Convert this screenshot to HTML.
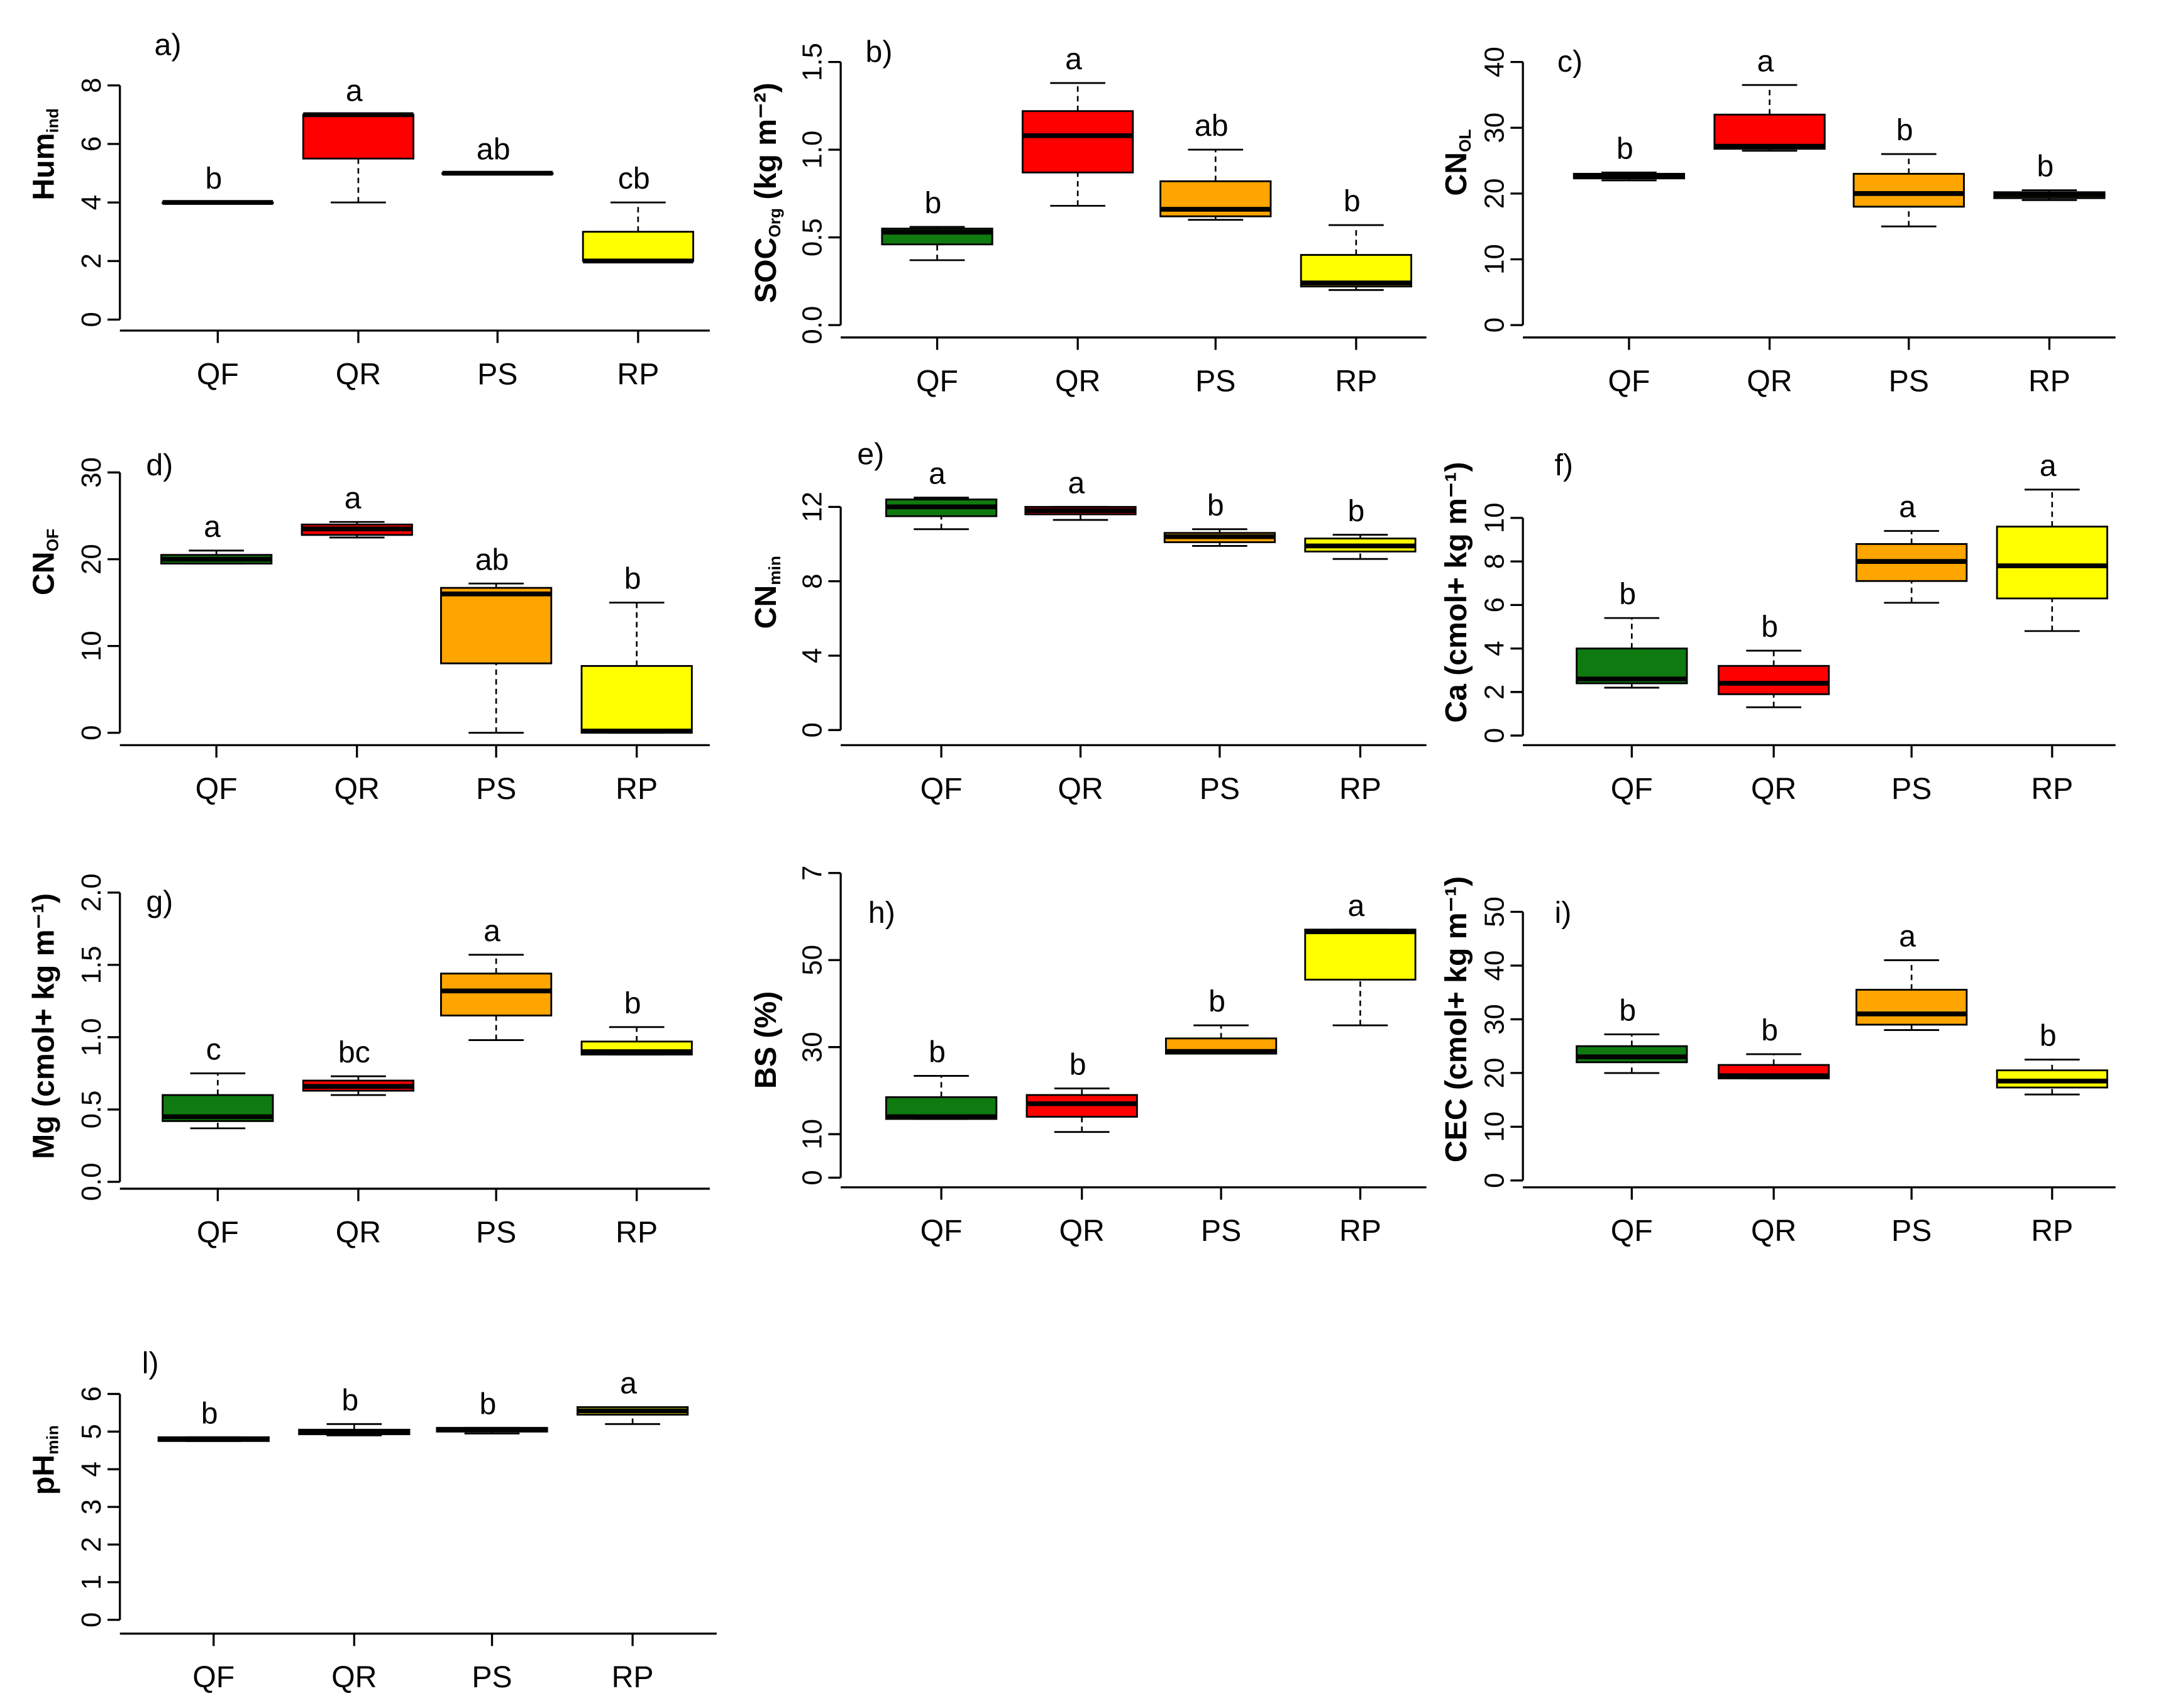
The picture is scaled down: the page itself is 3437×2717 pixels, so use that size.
<!DOCTYPE html>
<html><head><meta charset="utf-8"><style>
html,body{margin:0;padding:0;background:#fff;}
svg{display:block;}
text{font-family:"Liberation Sans",Arial,sans-serif;}
</style></head><body>
<svg id="chart" width="3437" height="2717" viewBox="0 0 1568 1240" preserveAspectRatio="none" xmlns="http://www.w3.org/2000/svg"></svg>
<script>
const categories = ["QF","QR","PS","RP"];
const colors = ["#0f7a0f","#ff0000","#ffa500","#ffff00"];
// each series: [min, q1, median, q3, max] per category
const humValues = [[4,4,4,4,4],[4,5.5,7,7,7],[5,5,5,5,5],[2,2,2,3,4]];
const humLetters = ["b","a","ab","cb"];
const socValues = [[0.37,0.46,0.53,0.55,0.56],[0.68,0.87,1.08,1.22,1.38],[0.6,0.62,0.66,0.82,1.0],[0.2,0.22,0.24,0.4,0.57]];
const socLetters = ["b","a","ab","b"];
const cnolValues = [[22,22.3,22.7,23,23.2],[26.5,26.8,27.2,32,36.5],[15,18,20,23,26],[19,19.3,19.8,20.2,20.5]];
const cnolLetters = ["b","a","b","b"];
const cnofValues = [[19.5,19.5,20,20.5,21],[22.5,22.8,23.5,24,24.3],[0,8,16,16.7,17.2],[0,0,0.2,7.7,15]];
const cnofLetters = ["a","a","ab","b"];
const cnminValues = [[10.8,11.5,12,12.4,12.5],[11.3,11.6,11.8,12,12],[9.9,10.1,10.4,10.6,10.8],[9.2,9.6,9.9,10.3,10.5]];
const cnminLetters = ["a","a","b","b"];
const caValues = [[2.2,2.4,2.6,4,5.4],[1.3,1.9,2.4,3.2,3.9],[6.1,7.1,8,8.8,9.4],[4.8,6.3,7.8,9.6,11.3]];
const caLetters = ["b","b","a","a"];
const mgValues = [[0.37,0.42,0.45,0.6,0.75],[0.6,0.63,0.66,0.7,0.73],[0.98,1.15,1.32,1.44,1.57],[0.88,0.88,0.9,0.97,1.07]];
const mgLetters = ["c","bc","a","b"];
const bsValues = [[13.5,13.5,14,18.5,23.4],[10.5,14,17,19,20.5],[28.5,28.5,29,32,35],[35,45.5,56.5,57,57]];
const bsLetters = ["b","b","b","a"];
const cecValues = [[20,22,23,25,27.2],[19,19,19.5,21.5,23.5],[28,29,31,35.5,41],[16,17.3,18.5,20.5,22.5]];
const cecLetters = ["b","b","a","b"];
const phValues = [[4.75,4.75,4.8,4.85,4.85],[4.9,4.93,5,5.05,5.2],[4.95,5,5.05,5.1,5.1],[5.2,5.45,5.55,5.65,5.65]];
const phLetters = ["b","b","b","a"];
const humTicks = [0,2,4,6,8];
const socTicks = ["0.0","0.5","1.0","1.5"];
const cnolTicks = [0,10,20,30,40];
const cnofTicks = [0,10,20,30];
const cnminTicks = [0,4,8,12];
const caTicks = [0,2,4,6,8,10];
const mgTicks = ["0.0","0.5","1.0","1.5","2.0"];
const bsTicks = [0,10,30,50,70];
const bsTickText = ["0","10","30","50","7"];
const cecTicks = [0,10,20,30,40,50];
const phTicks = [0,1,2,3,4,5,6];

const panels = [
 {id:"a",vals:humValues,let:humLetters,ticks:humTicks,ax:87,v0:0,y0:232,v1:8,y1:62,xy:240,xr:515,xs:[158,260,361,463],tx:33,ty:112,title:["Hum","ind",""],lx:112,ly:40},
 {id:"b",vals:socValues,let:socLetters,ticks:socTicks,ax:610,v0:0,y0:236,v1:1.5,y1:45,xy:245,xr:1035,xs:[680,782,882,984],tx:557,ty:140,title:["SOC","Org"," (kg m⁻²)"],lx:628,ly:45},
 {id:"c",vals:cnolValues,let:cnolLetters,ticks:cnolTicks,ax:1105,v0:0,y0:236,v1:40,y1:45,xy:245,xr:1535,xs:[1182,1284,1385,1487],tx:1058,ty:118,title:["CN","OL",""],lx:1130,ly:52},
 {id:"d",vals:cnofValues,let:cnofLetters,ticks:cnofTicks,ax:87,v0:0,y0:532,v1:30,y1:343,xy:541,xr:515,xs:[157,259,360,462],tx:33,ty:408,title:["CN","OF",""],lx:106,ly:345},
 {id:"e",vals:cnminValues,let:cnminLetters,ticks:cnminTicks,ax:610,v0:0,y0:530,v1:12,y1:368,xy:541,xr:1035,xs:[683,784,885,987],tx:557,ty:430,title:["CN","min",""],lx:622,ly:337},
 {id:"f",vals:caValues,let:caLetters,ticks:caTicks,ax:1105,v0:0,y0:534,v1:10,y1:376,xy:541,xr:1535,xs:[1184,1287,1387,1489],tx:1058,ty:430,title:["Ca (cmol+ kg m⁻¹)","",""],lx:1128,ly:345},
 {id:"g",vals:mgValues,let:mgLetters,ticks:mgTicks,ax:87,v0:0,y0:858,v1:2,y1:648,xy:863,xr:515,xs:[158,260,360,462],tx:33,ty:745,title:["Mg (cmol+ kg m⁻¹)","",""],lx:106,ly:662},
 {id:"h",vals:bsValues,let:bsLetters,ticks:bsTicks,tickText:bsTickText,ax:610,v0:0,y0:855,v1:50,y1:697,xy:862,xr:1035,xs:[683,785,886,987],tx:557,ty:755,title:["BS  (%)","",""],lx:630,ly:670},
 {id:"i",vals:cecValues,let:cecLetters,ticks:cecTicks,ax:1105,v0:0,y0:857,v1:50,y1:662,xy:862,xr:1535,xs:[1184,1287,1387,1489],tx:1058,ty:740,title:["CEC (cmol+ kg m⁻¹)","",""],lx:1128,ly:670},
 {id:"l",vals:phValues,let:phLetters,ticks:phTicks,ax:87,v0:0,y0:1176,v1:6,y1:1012,xy:1186,xr:520,xs:[155,257,357,459],tx:33,ty:1060,title:["pH","min",""],lx:103,ly:997}
];
const svg=document.getElementById('chart');
const NS="http://www.w3.org/2000/svg";
function mk(tag,attrs,parent){const e=document.createElementNS(NS,tag);for(const k in attrs)e.setAttribute(k,attrs[k]);parent.appendChild(e);return e;}
panels.forEach(p=>{
  const g=mk('g',{},svg);
  
  
  const Y=v=>p.y0+(Number(v)-p.v0)*(p.y1-p.y0)/(p.v1-p.v0);
  const tv=p.ticks.map(Number);
  const yl=mk('line',{x1:p.ax,x2:p.ax,y1:Y(tv[0]),y2:Y(tv[tv.length-1]),stroke:'#000','stroke-width':1.5},g);
  
  
  p.ticks.forEach((t,i)=>{
    const y=Y(t);
    mk('line',{x1:p.ax-9,x2:p.ax,y1:y,y2:y,stroke:'#000','stroke-width':1.5},g);
    const tx=mk('text',{x:p.ax-14,y:y,'font-size':20,'text-anchor':'middle',transform:`rotate(-90 ${p.ax-14} ${y})`},g);
    tx.textContent=p.tickText?p.tickText[i]:String(t);
    
    
  });
  const xl=mk('line',{x1:p.ax,x2:p.xr,y1:p.xy,y2:p.xy,stroke:'#000','stroke-width':1.5},g);
  
  
  categories.forEach((c,i)=>{
    const x=p.xs[i];
    mk('line',{x1:x,x2:x,y1:p.xy,y2:p.xy+9,stroke:'#000','stroke-width':1.5},g);
    const t=mk('text',{x:x,y:p.xy+39,'font-size':22,'text-anchor':'middle'},g);
    t.textContent=c;
    
    
    const v=p.vals[i];
    const bg=mk('g',{},g);
    
    
    const w=80,cw=40;
    mk('line',{x1:x,x2:x,y1:Y(v[0]),y2:Y(v[1]),stroke:'#000','stroke-width':1.2,'stroke-dasharray':'4,3'},bg);
    mk('line',{x1:x,x2:x,y1:Y(v[3]),y2:Y(v[4]),stroke:'#000','stroke-width':1.2,'stroke-dasharray':'4,3'},bg);
    mk('line',{x1:x-cw/2,x2:x+cw/2,y1:Y(v[0]),y2:Y(v[0]),stroke:'#000','stroke-width':1.3},bg);
    mk('line',{x1:x-cw/2,x2:x+cw/2,y1:Y(v[4]),y2:Y(v[4]),stroke:'#000','stroke-width':1.3},bg);
    mk('rect',{x:x-w/2,y:Y(v[3]),width:w,height:Math.max(0.5,Y(v[1])-Y(v[3])),fill:colors[i],stroke:'#000','stroke-width':1.3},bg);
    mk('line',{x1:x-w/2,x2:x+w/2,y1:Y(v[2]),y2:Y(v[2]),stroke:'#000','stroke-width':3.5},bg);
    const lt=mk('text',{x:x-3,y:Y(v[4])-10,'font-size':22,'text-anchor':'middle'},g);
    lt.textContent=p.let[i];
    
    
  });
  const pl=mk('text',{x:p.lx,y:p.ly,'font-size':22},g);
  pl.textContent=p.id+')';
  
  
  const tt=mk('text',{x:p.tx,y:p.ty,'font-size':22,'font-weight':'bold','text-anchor':'middle',transform:`rotate(-90 ${p.tx} ${p.ty})`,'dominant-baseline':'middle'},g);
  
  
  const s1=mk('tspan',{},tt);s1.textContent=p.title[0];
  if(p.title[1]){const s2=mk('tspan',{'font-size':12,dy:6},tt);s2.textContent=p.title[1];}
  if(p.title[2]){const s3=mk('tspan',{dy:-6},tt);s3.textContent=p.title[2];}
});
</script>
</body></html>
